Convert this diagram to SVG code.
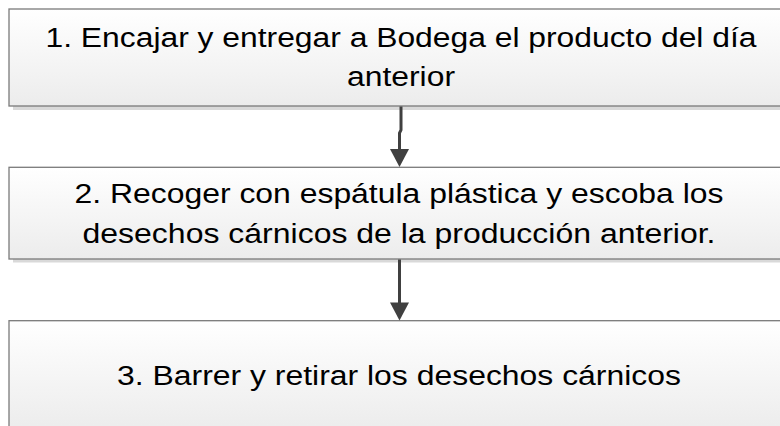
<svg xmlns="http://www.w3.org/2000/svg" width="780" height="426" viewBox="0 0 780 426">
<defs>
<linearGradient id="g" x1="0" y1="0" x2="0" y2="1">
<stop offset="0" stop-color="#ffffff"/>
<stop offset="1" stop-color="#ececec"/>
</linearGradient>
<style>
.box{fill:url(#g);stroke:#7a7a7a;stroke-width:1.3}
.shadow{fill:#d9d9d9}
.t{font-family:"Liberation Sans",Arial,sans-serif;font-size:27px;fill:#000;text-anchor:middle}
.c{fill:none;stroke:#404040;stroke-width:3}
.h{fill:#404040}
</style>
</defs>
<rect width="780" height="426" fill="#ffffff"/>
<g id="node1">
<rect class="shadow" x="13" y="12" width="790" height="98"/>
<rect class="box" x="9" y="9" width="790" height="97"/>
<text class="t" x="401" y="46.7" textLength="711" lengthAdjust="spacingAndGlyphs">1. Encajar y entregar a Bodega el producto del día</text>
<text class="t" x="401" y="86" textLength="108" lengthAdjust="spacingAndGlyphs">anterior</text>
</g>
<g id="node2">
<rect class="shadow" x="13" y="170.5" width="790" height="92"/>
<rect class="box" x="9" y="167.3" width="790" height="91.7"/>
<text class="t" x="399" y="203.3" textLength="649" lengthAdjust="spacingAndGlyphs">2. Recoger con espátula plástica y escoba los</text>
<text class="t" x="399" y="242.7" textLength="633" lengthAdjust="spacingAndGlyphs">desechos cárnicos de la producción anterior.</text>
</g>
<g id="node3">
<rect class="shadow" x="13" y="324" width="790" height="110"/>
<rect class="box" x="9" y="320.7" width="790" height="110"/>
<text class="t" x="399" y="385" textLength="564" lengthAdjust="spacingAndGlyphs">3. Barrer y retirar los desechos cárnicos</text>
</g>
<g id="connectors">
<path class="c" d="M401 106.5 V130 L399.5 133 V150"/>
<polygon class="h" points="390,149 409,149 399.5,167"/>
<path class="c" d="M399.5 259.5 V304"/>
<polygon class="h" points="390,302.5 409,302.5 399.5,320.5"/>
</g>
</svg>
